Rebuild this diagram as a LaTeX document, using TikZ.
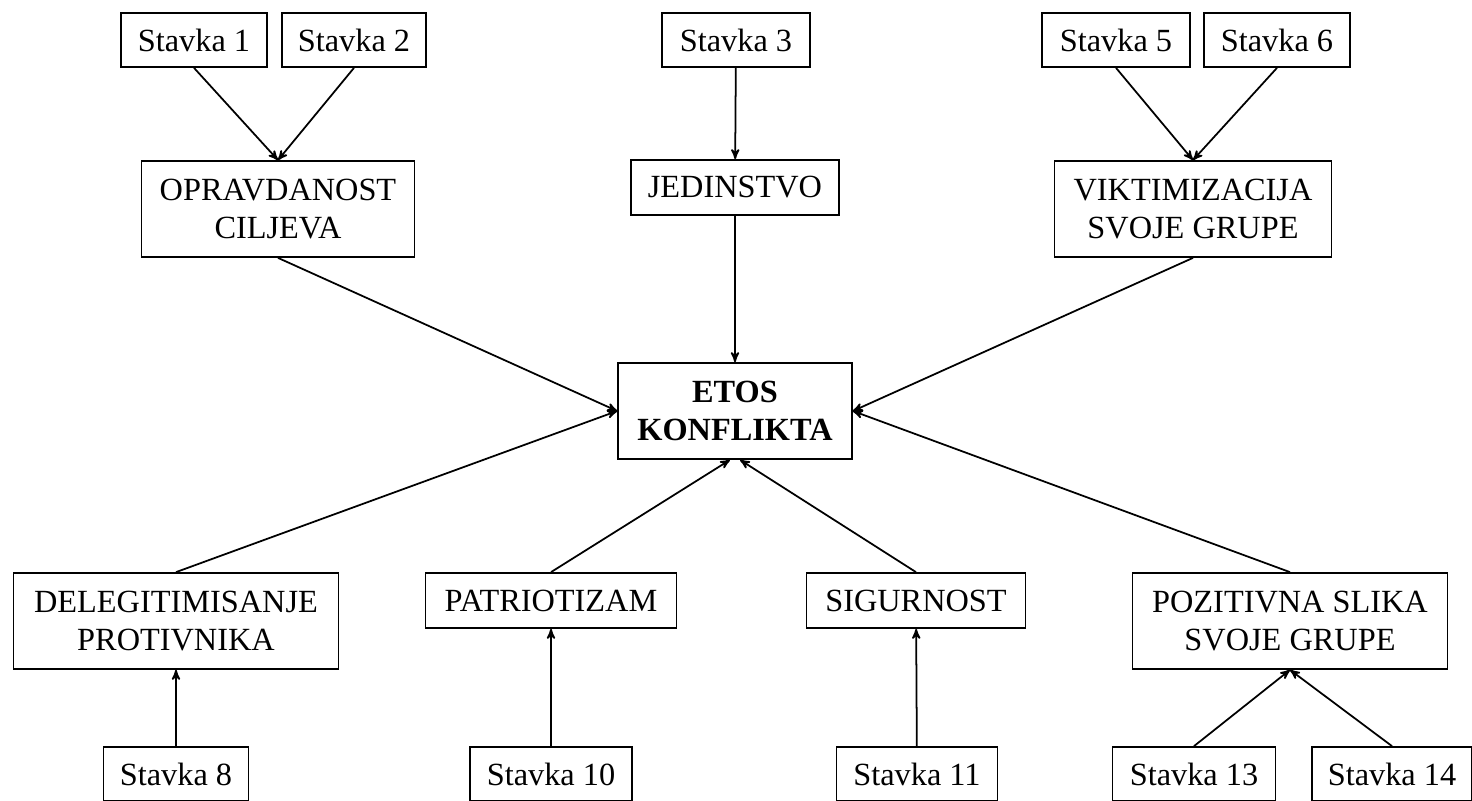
\documentclass[tikz,border=0pt]{standalone}
\usepackage{fontspec}
\setmainfont{Liberation Serif}
\usetikzlibrary{arrows, positioning}

\begin{document}
\begin{tikzpicture}[x=0.02cm,y=-0.02cm,>=stealth',line width=1pt,
    box/.style={draw,inner sep=0pt,align=center,minimum height=1.08cm,
      font=\fontsize{18.4}{21.5}\selectfont},
    tall/.style={box,minimum height=1.92cm},
    mid/.style={box,minimum height=1.1cm}]
    \useasboundingbox (0,0) rectangle (1472,801);
    % stavke gore
    \node[box,minimum width=2.92cm] (s1) at (194,40) {Stavka 1};
    \node[box,minimum width=2.88cm] (s2) at (354,40) {Stavka 2};
    \node[box,minimum width=2.96cm] (s3) at (736,40) {Stavka 3};
    \node[box,minimum width=2.96cm] (s5) at (1116,40) {Stavka 5};
    \node[box,minimum width=2.92cm] (s6) at (1277,40) {Stavka 6};
    % dimenzije
    \node[tall,minimum width=5.46cm] (opr) at (278,209) {OPRAVDANOST\\CILJEVA};
    \node[mid,minimum width=4.16cm] (jed) at (735,187.5) {JEDINSTVO};
    \node[tall,minimum width=5.54cm] (vik) at (1193,209) {VIKTIMIZACIJA\\SVOJE GRUPE};
    \node[tall,minimum width=4.68cm,font=\fontsize{18.4}{21.5}\selectfont\bfseries] (etos) at (735,411) {ETOS\\KONFLIKTA};
    \node[tall,minimum width=6.5cm] (del) at (176,621) {DELEGITIMISANJE\\PROTIVNIKA};
    \node[mid,minimum width=5.02cm] (pat) at (551,600.5) {PATRIOTIZAM};
    \node[mid,minimum width=4.38cm] (sig) at (916,600.5) {SIGURNOST};
    \node[tall,minimum width=6.3cm] (poz) at (1290,621) {POZITIVNA SLIKA\\SVOJE GRUPE};
    % stavke dolje
    \node[box,minimum width=2.9cm] (s8) at (176,774) {Stavka 8};
    \node[box,minimum width=3.24cm] (s10) at (551,774) {Stavka 10};
    \node[box,minimum width=3.22cm] (s11) at (917,774) {Stavka 11};
    \node[box,minimum width=3.26cm] (s13) at (1194,774) {Stavka 13};
    \node[box,minimum width=3.2cm] (s14) at (1392,774) {Stavka 14};
    \path[->]
      (s1.south) edge (opr.north)
      (s2.south) edge (opr.north)
      (s3) edge (jed)
      (s5.south) edge (vik.north)
      (s6.south) edge (vik.north)
      (opr.south) edge (etos.west)
      (jed) edge (etos)
      (vik.south) edge (etos.east)
      (del.north) edge (etos.west)
      (pat.north) edge ([xshift=-0.1cm]etos.south)
      (sig.north) edge ([xshift=0.1cm]etos.south)
      (poz.north) edge (etos.east)
      (s8) edge (del)
      (s10) edge (pat)
      (s11) edge (sig)
      (s13.north) edge (poz.south)
      (s14.north) edge (poz.south);
  \end{tikzpicture}
\end{document}
